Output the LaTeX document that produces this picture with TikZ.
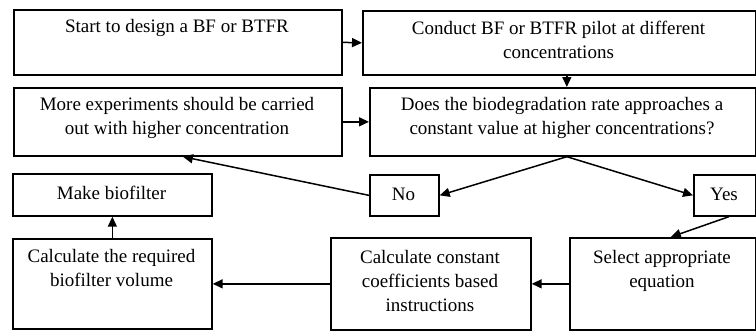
\documentclass[tikz,border=0pt]{standalone}
\usepackage{fontspec}
\setmainfont{Liberation Serif}
\usetikzlibrary{arrows.meta}
\begin{document}
\begin{tikzpicture}[x=1pt,y=-1pt,
  box/.style={draw,line width=1.7pt,inner sep=0pt},
  txt/.style={inner sep=0pt,align=center,font=\fontsize{19}{24}\selectfont},
  arr/.style={line width=1.5pt,-{Triangle[length=10pt,width=9pt]}}]
\useasboundingbox (0,0) rectangle (756,332);
% boxes
\node[box,minimum width=328pt,minimum height=65pt,anchor=north west] (start) at (13,9) {};
\node[box,minimum width=393pt,minimum height=64pt,anchor=north west] (conduct) at (362,10) {};
\node[box,minimum width=328pt,minimum height=68pt,anchor=north west] (more) at (13,87) {};
\node[box,minimum width=386pt,minimum height=68pt,anchor=north west] (does) at (369,87) {};
\node[box,minimum width=69pt,minimum height=41pt,anchor=north west] (no) at (369,174) {};
\node[box,minimum width=62pt,minimum height=41pt,anchor=north west] (yes) at (693,174) {};
\node[box,minimum width=199pt,minimum height=42pt,anchor=north west] (make) at (12,173) {};
\node[box,minimum width=199pt,minimum height=90pt,anchor=north west] (calcreq) at (12,238) {};
\node[box,minimum width=200pt,minimum height=92pt,anchor=north west] (calcconst) at (330,237) {};
\node[box,minimum width=186pt,minimum height=92pt,anchor=north west] (select) at (569,237) {};
% texts
\node[txt] (starttxt) at (177,28) {Start to design a BF or BTFR};
\node[txt] (conducttxt) at (558.5,40) {Conduct BF or BTFR pilot at different\\concentrations};
\node[txt] (moretxt) at (177,118) {More experiments should be carried\\out with higher concentration};
\node[txt] (doestxt) at (562,118) {Does the biodegradation rate approaches a\\constant value at higher concentrations?};
\node[txt] (notxt) at (403.5,194) {No};
\node[txt] (yestxt) at (724,194) {Yes};
\node[txt] (maketxt) at (111.5,193) {Make biofilter};
\node[txt] (calcreqtxt) at (111.5,267.5) {Calculate the required\\biofilter volume};
\node[txt] (calcconsttxt) at (430,281) {Calculate constant\\coefficients based\\instructions};
\node[txt] (selecttxt) at (662,271) {Select appropriate\\equation};
% connectors
\coordinate (dtop) at ([xshift=4pt]does.north);
\coordinate (dbot) at ([xshift=4pt]does.south);
\draw[arr] (start.east) -- (conduct.west);
\draw[arr] (conduct.south -| dtop) -- (dtop);
\draw[arr] (more.east) -- (more.east -| does.west);
\draw[arr] (dbot) -- (no.east);
\draw[arr] (dbot) -- (yes.west);
\draw[arr] (no.west) -- ([xshift=5pt]more.south);
\draw[arr] ([xshift=4pt]yes.south) -- ([xshift=8pt]select.north);
\draw[arr] (select.west) -- (calcconst.east);
\draw[arr] (calcconst.west) -- (calcreq.east);
\draw[arr] (calcreq.north) -- (make.south);
\end{tikzpicture}
\end{document}
